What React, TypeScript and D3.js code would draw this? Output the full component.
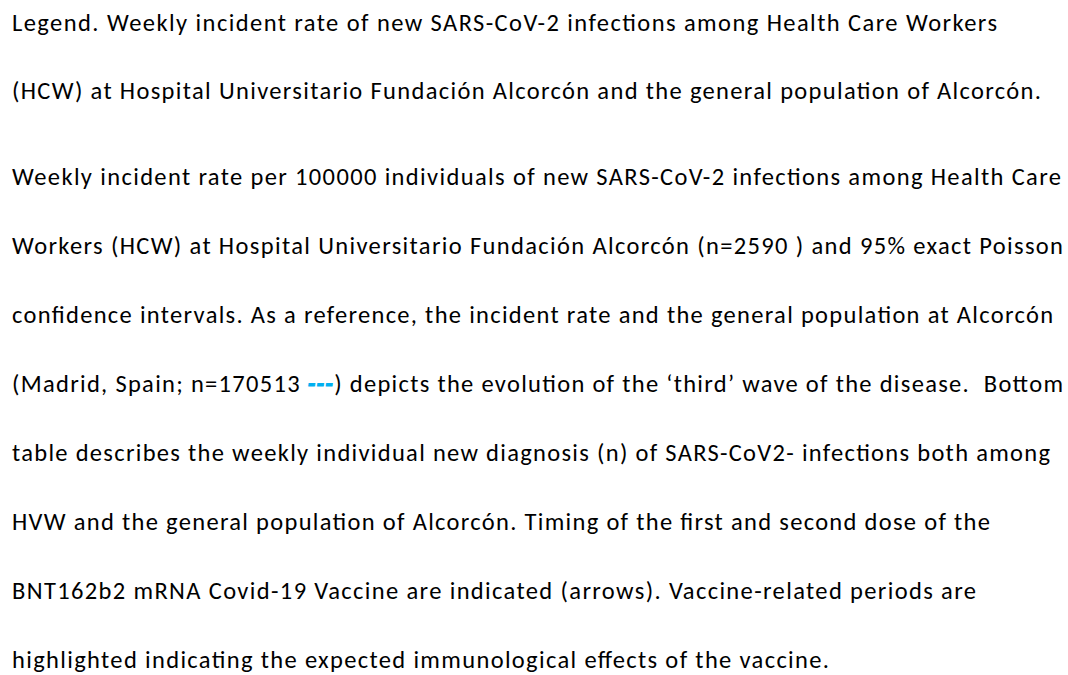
import React from 'react';
import * as d3 from 'd3';

// caption text, one entry per rendered line
const legendLines = [
  'Legend. Weekly incident rate of new SARS-CoV-2 infections among Health Care Workers',
  '(HCW) at Hospital Universitario Fundación Alcorcón and the general population of Alcorcón.',
];

const bodyLines = [
  'Weekly incident rate per 100000 individuals of new SARS-CoV-2 infections among Health Care',
  'Workers (HCW) at Hospital Universitario Fundación Alcorcón (n=2590 ) and 95% exact Poisson',
  'confidence intervals. As a reference, the incident rate and the general population at Alcorcón',
  '(Madrid, Spain; n=170513 {dash}) depicts the evolution of the ‘third’ wave of the disease.  Bottom',
  'table describes the weekly individual new diagnosis (n) of SARS-CoV2- infections both among',
  'HVW and the general population of Alcorcón. Timing of the first and second dose of the',
  'BNT162b2 mRNA Covid-19 Vaccine are indicated (arrows). Vaccine-related periods are',
  'highlighted indicating the expected immunological effects of the vaccine.',
];

// right edge of each line as measured on the page
const legendEnds = [997, 1041];
const bodyEnds = [1061, 1063, 1053, 1063, 1050, 990, 976, 829];

const width = 1068;
const height = 675;
const left = 12;

const App = () => {
  // baselines: two legend lines, then the body paragraph
  const legendY = d3.scaleLinear().domain([0, 1]).range([31, 99]);
  const bodyY = d3.scaleLinear().domain([0, 7]).range([185, 668]);

  const font = 'Carlito, Calibri, Lato, sans-serif';

  const renderLine = (txt: string, i: number, y: number, end: number) => {
    const parts = txt.split('{dash}');
    return (
      <text
        key={i}
        x={left}
        y={y}
        fontSize={24.5}
        fontFamily={font}
        fill="#000"
        textLength={end - left}
        lengthAdjust="spacing"
        style={{ whiteSpace: 'pre' }}
      >
        {parts.length === 1 ? (
          txt
        ) : (
          <>
            <tspan>{parts[0]}</tspan>
            <tspan
              fill="#00B0F0"
              stroke="#00B0F0"
              strokeWidth={1.2}
              fontWeight="900"
              fontStyle="italic"
            >
              ---
            </tspan>
            <tspan>{parts[1]}</tspan>
          </>
        )}
      </text>
    );
  };

  return (
    <div style={{ position: 'absolute', left: 0, top: 0 }}>
      <svg width={width} height={height} style={{ display: 'block', background: '#fff' }}>
        {legendLines.map((t, i) => renderLine(t, i, legendY(i), legendEnds[i]))}
        {bodyLines.map((t, i) => renderLine(t, i + 10, bodyY(i), bodyEnds[i]))}
      </svg>
    </div>
  );
};

export default App;
